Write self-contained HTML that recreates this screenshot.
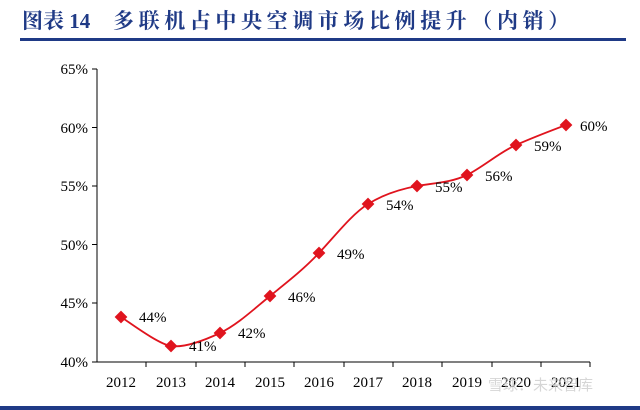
<!DOCTYPE html><html><head><meta charset="utf-8"><style>body{margin:0;background:#fff}svg{display:block}</style></head><body>
<svg width="640" height="410" xmlns="http://www.w3.org/2000/svg" font-family="Liberation Serif, Noto Serif CJK SC, serif">
<text x="22" y="28" font-size="21" font-weight="bold" fill="#1f3a86" font-family="Liberation Serif, Noto Serif CJK SC, serif">图表 14</text>
<text x="113" y="28" font-size="21" font-weight="bold" fill="#1f3a86" letter-spacing="4.6" font-family="Liberation Serif, Noto Serif CJK SC, serif">多联机占中央空调市场比例提升（内销）</text>
<rect x="20" y="38" width="606" height="3" fill="#1f3a86"/>
<rect x="0" y="406" width="640" height="4" fill="#1f3a86"/>
<g stroke="#000" stroke-width="1">
<line x1="97" y1="69" x2="97" y2="362"/>
<line x1="97" y1="362" x2="590" y2="362"/>
<line x1="92" y1="69" x2="97" y2="69"/><line x1="92" y1="127.5" x2="97" y2="127.5"/><line x1="92" y1="186" x2="97" y2="186"/><line x1="92" y1="244.5" x2="97" y2="244.5"/><line x1="92" y1="303" x2="97" y2="303"/><line x1="92" y1="362" x2="97" y2="362"/>
<line x1="146" y1="362" x2="146" y2="367"/><line x1="196" y1="362" x2="196" y2="367"/><line x1="245" y1="362" x2="245" y2="367"/><line x1="294" y1="362" x2="294" y2="367"/><line x1="344" y1="362" x2="344" y2="367"/><line x1="393" y1="362" x2="393" y2="367"/><line x1="442" y1="362" x2="442" y2="367"/><line x1="492" y1="362" x2="492" y2="367"/><line x1="541" y1="362" x2="541" y2="367"/><line x1="590" y1="362" x2="590" y2="367"/>
</g>
<g font-size="15" text-anchor="end" fill="#000">
<text x="88" y="74">65%</text><text x="88" y="133">60%</text><text x="88" y="191">55%</text><text x="88" y="250">50%</text><text x="88" y="308">45%</text><text x="88" y="367">40%</text>
</g>
<g font-size="15" text-anchor="middle" fill="#000">
<text x="121" y="387">2012</text><text x="171" y="387">2013</text><text x="220" y="387">2014</text><text x="270" y="387">2015</text><text x="319" y="387">2016</text><text x="368" y="387">2017</text><text x="417" y="387">2018</text><text x="467" y="387">2019</text><text x="516" y="387">2020</text><text x="566" y="387">2021</text>
</g>
<path d="M121,317 C129,322 158,344 171,346 C184,348 205,340 220,333 C237,325 254,309 270,296 C286,283 303,270 319,253 C335,236 352,214 368,204 C384,194 401,189 417,186 C433,183 450,183 467,175 C483,167 500,152 516,145 C532,138 550,131 566,125" fill="none" stroke="#e0141e" stroke-width="1.8"/>
<g fill="#e0141e">
<rect x="-4.5" y="-4.5" width="9" height="9" transform="translate(121,317) rotate(45)"/>
<rect x="-4.5" y="-4.5" width="9" height="9" transform="translate(171,346) rotate(45)"/>
<rect x="-4.5" y="-4.5" width="9" height="9" transform="translate(220,333) rotate(45)"/>
<rect x="-4.5" y="-4.5" width="9" height="9" transform="translate(270,296) rotate(45)"/>
<rect x="-4.5" y="-4.5" width="9" height="9" transform="translate(319,253) rotate(45)"/>
<rect x="-4.5" y="-4.5" width="9" height="9" transform="translate(368,204) rotate(45)"/>
<rect x="-4.5" y="-4.5" width="9" height="9" transform="translate(417,186) rotate(45)"/>
<rect x="-4.5" y="-4.5" width="9" height="9" transform="translate(467,175) rotate(45)"/>
<rect x="-4.5" y="-4.5" width="9" height="9" transform="translate(516,145) rotate(45)"/>
<rect x="-4.5" y="-4.5" width="9" height="9" transform="translate(566,125) rotate(45)"/>
</g>
<g font-size="15" fill="#000">
<text x="139" y="322">44%</text><text x="189" y="351">41%</text><text x="238" y="338">42%</text><text x="288" y="302">46%</text><text x="337" y="259">49%</text><text x="386" y="210">54%</text><text x="435" y="192">55%</text><text x="485" y="181">56%</text><text x="534" y="151">59%</text><text x="580" y="131">60%</text>
</g>
<text x="488" y="390" font-size="15" fill="#ccc" fill-opacity="0.8" font-family="Liberation Sans, Noto Sans CJK SC, sans-serif">雪球：未来智库</text>
</svg>
</body></html>
